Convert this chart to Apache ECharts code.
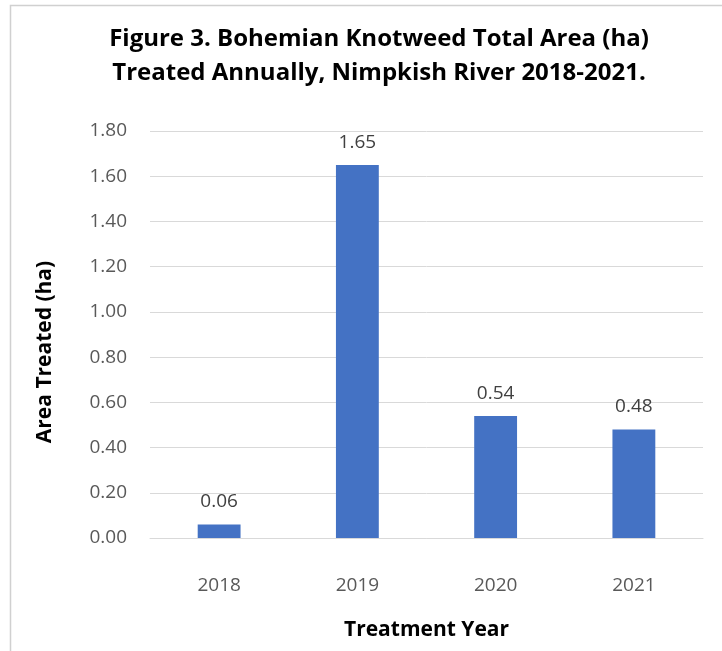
<!DOCTYPE html>
<html>
<head>
<meta charset="utf-8">
<script src="https://cdn.jsdelivr.net/npm/echarts@6/dist/echarts.min.js"></script>
<style>
    html, body { margin: 0; padding: 0; background: #fff; }
    #chart { width: 722px; height: 651px; }
</style>
</head>
<body>
<div id="chart"></div>
<script>
// data
var years = ["2018", "2019", "2020", "2021"];
var areaTreated = [0.06, 1.65, 0.54, 0.48];
var yMin = 0, yMax = 1.8, yStep = 0.2;

var chart = echarts.init(document.getElementById("chart"));
var font = "'Open Sans', 'Liberation Sans', sans-serif";

var option = {
    animation: false,
    textStyle: { fontFamily: font },
    title: {
        text: "Figure 3. Bohemian Knotweed Total Area (ha)\nTreated Annually, Nimpkish River 2018-2021.",
        left: 374,
        textAlign: 'center',
        top: 17,
        textStyle: {
            fontFamily: font,
            fontSize: 24,
            fontWeight: 'bold',
            color: '#000',
            lineHeight: 34
        }
    },
    graphic: [{
        // chart frame (left / top edges visible)
        type: 'rect',
        shape: { x: 10.5, y: 5.5, width: 900, height: 900 },
        style: { fill: 'none', stroke: '#d0d0d0', lineWidth: 1.5 },
        silent: true
    }, {
        // y axis title, sits a bit lower than the plot middle
        type: 'text',
        x: 45,
        y: 352,
        rotation: Math.PI / 2,
        style: {
            text: 'Area Treated (ha)',
            fontFamily: font,
            fontSize: 21,
            fontWeight: 'bold',
            fill: '#000',
            align: 'center',
            verticalAlign: 'middle'
        },
        silent: true
    }],
    grid: {
        left: 150,
        right: 19,
        top: 131,
        bottom: 113
    },
    xAxis: {
        type: 'category',
        data: years,
        name: 'Treatment Year',
        nameLocation: 'middle',
        nameGap: 82,
        nameTextStyle: { fontSize: 21, fontWeight: 'bold', color: '#000' },
        axisTick: { show: false },
        axisLine: { lineStyle: { color: '#d9d9d9', width: 1 } },
        axisLabel: { color: '#595959', fontSize: 19, margin: 38 }
    },
    yAxis: {
        type: 'value',
        min: yMin,
        max: yMax,
        interval: yStep,
        axisLine: { show: false },
        axisTick: { show: false },
        splitLine: { lineStyle: { color: '#d9d9d9', width: 1 } },
        axisLabel: {
            color: '#595959',
            fontSize: 19,
            margin: 23,
            formatter: function(v) { return v.toFixed(2); }
        }
    },
    series: [{
        type: 'bar',
        data: areaTreated,
        barWidth: '31%',
        itemStyle: { color: '#4472C4' },
        label: {
            show: true,
            position: 'top',
            distance: 13,
            color: '#404040',
            fontSize: 19,
            formatter: function(p) { return p.value.toFixed(2); }
        }
    }]
};
chart.setOption(option);
</script>
</body>
</html>
